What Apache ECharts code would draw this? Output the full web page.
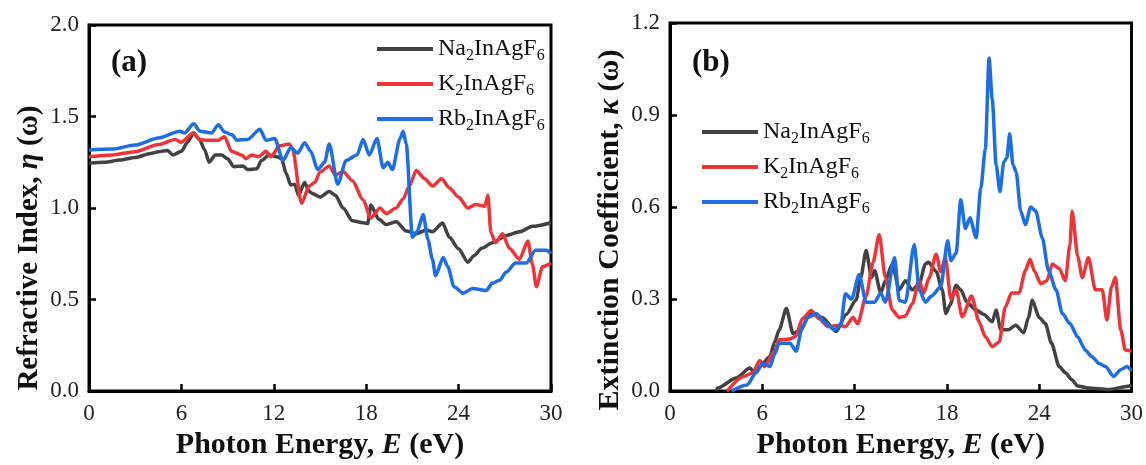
<!DOCTYPE html>
<html>
<head>
<meta charset="utf-8">
<script src="https://cdn.jsdelivr.net/npm/echarts@6/dist/echarts.min.js"></script>
<style>
  html, body { margin: 0; padding: 0; background: #fff; }
  #chart { width: 1146px; height: 465px; }
</style>
</head>
<body>
<div id="chart"></div>
<script>
// Compound names and line colours
const compounds = ['Na2InAgF6', 'K2InAgF6', 'Rb2InAgF6'];
const colors = ['#424242', '#ec3538', '#1d6ee2'];

// Axis ticks
const energyTicks = [0, 6, 12, 18, 24, 30];
const etaTicks = [0.0, 0.5, 1.0, 1.5, 2.0];
const kappaTicks = [0.0, 0.3, 0.6, 0.9, 1.2];

// (a) Refractive index η(ω) vs photon energy (eV)
const naEnergyA = [0, 1, 2, 3, 4, 4.5, 5.1, 5.45, 6.0, 6.4, 6.8, 7.2, 7.5, 7.8, 8.2, 8.6, 9.0, 9.4, 10.0, 10.3, 10.9, 11.2, 11.7, 12.2, 12.5, 12.8, 13.1, 13.36, 13.6, 14.0, 14.3, 14.5, 15.0, 15.6, 16.0, 16.5, 17.1, 17.8, 18.1, 18.3, 18.8, 19.3, 19.95, 20.6, 21.25, 21.9, 22.3, 22.96, 23.4, 24.0, 24.6, 25.0, 25.5, 26.2, 27.1, 27.95, 28.8, 30];
const naEta = [1.245, 1.25, 1.262, 1.276, 1.298, 1.307, 1.315, 1.29, 1.31, 1.36, 1.41, 1.37, 1.32, 1.25, 1.29, 1.29, 1.27, 1.226, 1.23, 1.21, 1.215, 1.26, 1.29, 1.28, 1.27, 1.19, 1.126, 1.13, 1.07, 1.14, 1.09, 1.08, 1.06, 1.09, 1.07, 1.0, 0.93, 0.92, 0.915, 1.017, 0.94, 0.91, 0.925, 0.874, 0.86, 0.88, 0.87, 0.918, 0.84, 0.777, 0.704, 0.74, 0.78, 0.81, 0.85, 0.87, 0.9, 0.92];

const kEnergyA = [0, 1.5, 3.0, 4.5, 5.6, 6.0, 6.77, 7.2, 7.63, 8.4, 8.8, 9.25, 9.9, 10.2, 10.55, 11.0, 11.5, 11.8, 12.4, 13.0, 13.2, 13.8, 14.3, 14.66, 15.0, 15.6, 16.0, 16.5, 17.1, 17.8, 18.3, 18.9, 19.3, 19.95, 20.4, 20.8, 21.25, 21.8, 22.3, 22.9, 23.4, 24.0, 24.6, 25.1, 25.7, 25.9, 26.1, 26.4, 26.85, 27.3, 27.95, 28.5, 28.8, 29.05, 29.45, 30];
const kEta = [1.28, 1.29, 1.308, 1.347, 1.374, 1.36, 1.41, 1.375, 1.37, 1.37, 1.39, 1.31, 1.29, 1.27, 1.29, 1.28, 1.31, 1.28, 1.34, 1.35, 1.33, 1.026, 1.12, 1.14, 1.196, 1.23, 1.18, 1.2, 1.15, 1.045, 0.945, 1.0, 0.97, 1.0, 1.05, 1.12, 1.205, 1.16, 1.12, 1.16, 1.11, 1.06, 1.0, 1.02, 1.01, 1.07, 0.865, 0.81, 0.86, 0.78, 0.72, 0.82, 0.69, 0.57, 0.68, 0.70];

const rbEnergyA = [0, 1.5, 3.0, 4.5, 5.9, 6.2, 6.8, 7.2, 7.96, 8.4, 8.8, 9.3, 9.6, 10.3, 11.1, 11.5, 12.06, 12.6, 13.1, 13.55, 14.0, 14.4, 14.85, 15.3, 15.6, 16.15, 16.7, 17.4, 17.8, 18.2, 18.7, 19.1, 19.4, 19.7, 20.2, 20.4, 20.6, 21.0, 21.3, 21.7, 22.0, 22.3, 22.5, 23.0, 23.3, 23.7, 24.3, 24.9, 25.8, 26.2, 26.65, 27.1, 27.7, 28.4, 29.0, 29.7, 30];
const rbEta = [1.317, 1.322, 1.344, 1.383, 1.42, 1.41, 1.46, 1.42, 1.41, 1.455, 1.415, 1.40, 1.37, 1.375, 1.43, 1.37, 1.38, 1.26, 1.33, 1.30, 1.357, 1.31, 1.21, 1.25, 1.35, 1.13, 1.26, 1.29, 1.375, 1.29, 1.38, 1.22, 1.25, 1.21, 1.38, 1.42, 1.35, 0.84, 0.87, 0.965, 0.83, 0.72, 0.63, 0.73, 0.68, 0.57, 0.535, 0.56, 0.55, 0.59, 0.605, 0.65, 0.70, 0.70, 0.77, 0.77, 0.75];

// (b) Extinction coefficient κ(ω) vs photon energy (eV)
const naEnergyB = [3.0, 3.1, 4.3, 5.2, 5.4, 5.83, 6.5, 6.8, 7.1, 7.56, 8.0, 8.53, 9.07, 9.9, 10.8, 11.45, 12.1, 12.4, 12.75, 13.1, 13.3, 13.7, 14.0, 14.45, 14.9, 15.3, 15.75, 16.2, 16.6, 16.8, 17.3, 17.7, 17.93, 18.2, 18.6, 18.9, 19.3, 19.9, 20.4, 20.95, 21.2, 21.5, 22.0, 22.47, 23.0, 23.3, 23.55, 24.0, 24.4, 24.8, 25.3, 25.7, 26.1, 26.5, 27.2, 28.5, 29.8, 30];
const naKappa = [0, 0.01, 0.043, 0.075, 0.065, 0.08, 0.113, 0.16, 0.2, 0.269, 0.188, 0.2, 0.253, 0.24, 0.194, 0.25, 0.297, 0.371, 0.458, 0.37, 0.393, 0.32, 0.36, 0.414, 0.33, 0.36, 0.33, 0.35, 0.414, 0.42, 0.39, 0.33, 0.253, 0.28, 0.345, 0.33, 0.29, 0.264, 0.25, 0.226, 0.264, 0.2, 0.2, 0.215, 0.19, 0.24, 0.296, 0.24, 0.22, 0.156, 0.08, 0.06, 0.038, 0.017, 0.01, 0.005, 0.016, 0.02];

const kEnergyB = [3.7, 4.8, 5.4, 5.83, 6.15, 6.8, 7.1, 7.8, 8.2, 8.6, 9.18, 9.7, 10.26, 11.0, 11.4, 11.9, 12.2, 12.75, 13.2, 13.6, 14.0, 14.45, 14.9, 15.3, 15.75, 16.2, 16.5, 16.85, 17.3, 17.6, 17.9, 18.26, 18.6, 19.0, 19.6, 20.1, 20.5, 20.95, 21.4, 21.8, 22.2, 22.7, 23.1, 23.4, 23.7, 24.1, 24.5, 24.85, 25.3, 25.7, 26.0, 26.14, 26.5, 26.8, 27.2, 27.65, 28.1, 28.4, 28.7, 28.95, 29.3, 29.6, 30];
const kKappa = [0, 0.048, 0.06, 0.1, 0.08, 0.13, 0.167, 0.17, 0.18, 0.236, 0.263, 0.236, 0.21, 0.215, 0.21, 0.24, 0.22, 0.31, 0.42, 0.51, 0.37, 0.264, 0.24, 0.245, 0.285, 0.36, 0.32, 0.37, 0.446, 0.39, 0.435, 0.3, 0.33, 0.242, 0.31, 0.225, 0.177, 0.145, 0.16, 0.274, 0.32, 0.32, 0.393, 0.43, 0.39, 0.35, 0.36, 0.414, 0.4, 0.36, 0.478, 0.586, 0.44, 0.37, 0.435, 0.33, 0.33, 0.232, 0.34, 0.37, 0.2, 0.134, 0.13];

const rbEnergyB = [4.0, 5.0, 5.6, 6.0, 6.5, 6.8, 7.1, 7.8, 8.2, 8.6, 8.96, 9.5, 10.15, 10.7, 11.1, 11.4, 11.8, 12.3, 12.75, 13.3, 13.7, 14.0, 14.6, 14.9, 15.3, 15.88, 16.2, 16.6, 17.0, 17.6, 18.05, 18.26, 18.6, 18.9, 19.2, 19.5, 19.9, 20.2, 20.5, 20.74, 20.95, 21.2, 21.45, 21.7, 21.9, 22.08, 22.3, 22.5, 22.8, 23.1, 23.45, 23.77, 24.2, 24.6, 25.1, 25.5, 26.0, 26.5, 27.0, 27.4, 27.9, 28.3, 28.85, 29.3, 29.7, 30];
const rbKappa = [0, 0.02, 0.06, 0.09, 0.08, 0.12, 0.156, 0.156, 0.13, 0.21, 0.24, 0.253, 0.22, 0.2, 0.215, 0.317, 0.3, 0.38, 0.29, 0.29, 0.32, 0.29, 0.435, 0.295, 0.29, 0.478, 0.33, 0.29, 0.31, 0.34, 0.49, 0.425, 0.45, 0.624, 0.53, 0.565, 0.5, 0.66, 0.79, 1.086, 0.95, 0.737, 0.65, 0.747, 0.76, 0.839, 0.737, 0.715, 0.586, 0.543, 0.6, 0.587, 0.5, 0.393, 0.33, 0.253, 0.22, 0.177, 0.134, 0.113, 0.09, 0.08, 0.048, 0.07, 0.08, 0.066];

const FONT = "'Liberation Serif', 'Times New Roman', serif";

const pairs = (xs, ys) => xs.map((x, i) => [x, ys[i]]);

// Chemical formula with subscript digits as rich text
function formula(name) {
  return name.replace(/([A-Za-z]+)|(\d+)/g, (m, letters, digits) =>
    letters ? '{n|' + letters + '}' : '{s|' + digits + '}');
}
const formulaRich = {
  n: { fontFamily: FONT, fontSize: 24, lineHeight: 30, color: '#111' },
  s: { fontFamily: FONT, fontSize: 16, lineHeight: 16, padding: [14, 0, 0, 0], color: '#111' }
};

const titleRich = (size) => ({
  b: { fontFamily: FONT, fontWeight: 'bold', fontSize: size, color: '#111' },
  i: { fontFamily: FONT, fontWeight: 'bold', fontStyle: 'italic', fontSize: size, color: '#111' }
});

function xAxisFor(gridIndex) {
  return {
    type: 'value', gridIndex, min: energyTicks[0], max: energyTicks[energyTicks.length - 1], interval: 6,
    name: '{b|Photon Energy, }{i|E}{b| (eV)}',
    nameLocation: 'middle', nameGap: 30,
    nameTextStyle: { rich: titleRich(30) },
    axisLine: { lineStyle: { color: '#000', width: 3 } },
    axisTick: { inside: true, length: 7, lineStyle: { color: '#000', width: 2.5 } },
    axisLabel: { fontFamily: FONT, fontSize: 23, color: '#222', margin: 11 },
    splitLine: { show: false }
  };
}

function yAxisFor(gridIndex, ticks, nameText, size, shiftPad) {
  const step = ticks[1] - ticks[0];
  return {
    type: 'value', gridIndex, min: ticks[0], max: ticks[ticks.length - 1], interval: step,
    name: nameText,
    nameLocation: 'middle', nameGap: 45, nameRotate: 90,
    nameTextStyle: { rich: titleRich(size), padding: [0, shiftPad, 0, 0] },
    axisLine: { lineStyle: { color: '#000', width: 3 } },
    axisTick: { inside: true, length: 7, lineStyle: { color: '#000', width: 2.5 } },
    axisLabel: { fontFamily: FONT, fontSize: 23, color: '#222', margin: 10, formatter: v => v.toFixed(1) },
    splitLine: { show: false }
  };
}

function lineSeries(name, xi, data, color) {
  return {
    name, type: 'line', xAxisIndex: xi, yAxisIndex: xi,
    data, showSymbol: false, smooth: 0.25, smoothMonotone: 'x',
    lineStyle: { color, width: 3.5 }, itemStyle: { color },
    animation: false
  };
}

function legendAt(left, top) {
  return {
    data: compounds, orient: 'vertical', left, top,
    icon: 'rect', itemWidth: 56, itemHeight: 4, itemGap: 5,
    formatter: formula,
    textStyle: { fontFamily: FONT, fontSize: 24, color: '#111', rich: formulaRich },
    selectedMode: false
  };
}

const chart = echarts.init(document.getElementById('chart'), null, { renderer: 'canvas' });
chart.setOption({
  backgroundColor: '#fff',
  animation: false,
  grid: [
    { left: 89, top: 25, width: 462, height: 373, show: true, borderColor: '#000', borderWidth: 3 },
    { left: 670, top: 23, width: 464, height: 372, show: true, borderColor: '#000', borderWidth: 3 }
  ],
  xAxis: [xAxisFor(0), xAxisFor(1)],
  yAxis: [
    yAxisFor(0, etaTicks, '{b|Refractive Index, }{i|η}{b| (ω)}', 29, 80),
    yAxisFor(1, kappaTicks, '{b|Extinction Coefficient, }{i|κ}{b| (ω)}', 30, 46)
  ],
  legend: [legendAt(372, 29), legendAt(697, 112)],
  graphic: [
    { type: 'text', left: 111, top: 47, style: { text: '(a)', font: "bold 31px " + FONT, fill: '#111' } },
    { type: 'text', left: 692, top: 47, style: { text: '(b)', font: "bold 31px " + FONT, fill: '#111' } }
  ],
  series: [
    lineSeries(compounds[0], 0, pairs(naEnergyA, naEta), colors[0]),
    lineSeries(compounds[1], 0, pairs(kEnergyA, kEta), colors[1]),
    lineSeries(compounds[2], 0, pairs(rbEnergyA, rbEta), colors[2]),
    lineSeries(compounds[0], 1, pairs(naEnergyB, naKappa), colors[0]),
    lineSeries(compounds[1], 1, pairs(kEnergyB, kKappa), colors[1]),
    lineSeries(compounds[2], 1, pairs(rbEnergyB, rbKappa), colors[2])
  ]
});
</script>
</body>
</html>
